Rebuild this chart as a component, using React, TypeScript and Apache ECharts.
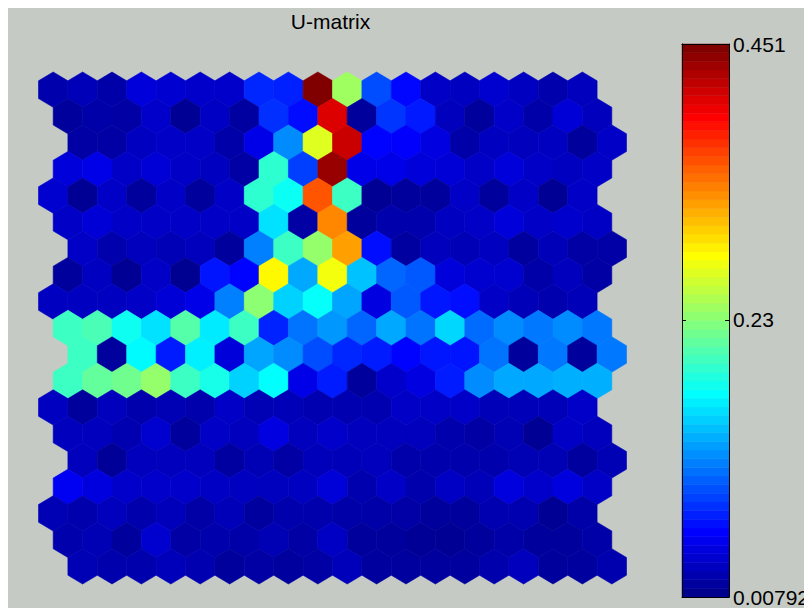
import React, { useEffect, useRef } from "react";
import * as echarts from "echarts";

// ---- data: U-matrix values, one array per hexagon row (top to bottom) ----
const row00 = [0.021, 0.026, 0.019, 0.041, 0.037, 0.034, 0.034, 0.074, 0.071, 0.451, 0.240, 0.091, 0.060, 0.032, 0.030, 0.036, 0.030, 0.021, 0.028];
const row01 = [0.0135, 0.019, 0.017, 0.034, 0.010, 0.031, 0.016, 0.078, 0.062, 0.410, 0.0135, 0.080, 0.068, 0.028, 0.0135, 0.033, 0.019, 0.039, 0.028];
const row02 = [0.017, 0.017, 0.030, 0.032, 0.032, 0.019, 0.047, 0.119, 0.268, 0.418, 0.058, 0.056, 0.044, 0.019, 0.030, 0.028, 0.030, 0.0135, 0.032];
const row03 = [0.041, 0.047, 0.032, 0.039, 0.032, 0.030, 0.017, 0.190, 0.085, 0.440, 0.047, 0.047, 0.041, 0.039, 0.032, 0.041, 0.032, 0.030, 0.032];
const row04 = [0.036, 0.010, 0.032, 0.0135, 0.032, 0.0135, 0.032, 0.190, 0.174, 0.358, 0.196, 0.010, 0.0135, 0.0135, 0.032, 0.0135, 0.032, 0.010, 0.032];
const row05 = [0.032, 0.039, 0.032, 0.032, 0.032, 0.032, 0.032, 0.157, 0.017, 0.335, 0.0135, 0.021, 0.021, 0.030, 0.032, 0.041, 0.032, 0.035, 0.031];
const row06 = [0.032, 0.021, 0.028, 0.025, 0.028, 0.0135, 0.113, 0.196, 0.235, 0.324, 0.063, 0.016, 0.028, 0.025, 0.030, 0.015, 0.026, 0.017, 0.018];
const row07 = [0.0135, 0.030, 0.010, 0.032, 0.009, 0.066, 0.058, 0.285, 0.132, 0.277, 0.143, 0.102, 0.096, 0.041, 0.036, 0.036, 0.019, 0.028, 0.017];
const row08 = [0.030, 0.030, 0.030, 0.032, 0.039, 0.047, 0.113, 0.232, 0.150, 0.172, 0.130, 0.044, 0.096, 0.067, 0.063, 0.032, 0.026, 0.022, 0.026];
const row09 = [0.196, 0.202, 0.176, 0.157, 0.207, 0.161, 0.196, 0.072, 0.108, 0.124, 0.102, 0.132, 0.108, 0.152, 0.104, 0.119, 0.110, 0.119, 0.110];
const row10 = [0.196, 0.0135, 0.168, 0.069, 0.163, 0.041, 0.130, 0.119, 0.091, 0.074, 0.069, 0.058, 0.067, 0.066, 0.108, 0.0135, 0.110, 0.0135, 0.110];
const row11 = [0.196, 0.213, 0.219, 0.235, 0.196, 0.180, 0.150, 0.170, 0.047, 0.069, 0.0135, 0.034, 0.044, 0.069, 0.119, 0.132, 0.132, 0.135, 0.135];
const row12 = [0.030, 0.0135, 0.028, 0.021, 0.0245, 0.021, 0.032, 0.0245, 0.026, 0.023, 0.023, 0.023, 0.032, 0.032, 0.033, 0.026, 0.026, 0.026, 0.033];
const row13 = [0.028, 0.028, 0.023, 0.036, 0.0135, 0.032, 0.028, 0.044, 0.028, 0.034, 0.028, 0.028, 0.028, 0.021, 0.017, 0.0245, 0.010, 0.032, 0.028];
const row14 = [0.028, 0.012, 0.028, 0.028, 0.028, 0.0155, 0.0245, 0.017, 0.027, 0.026, 0.028, 0.020, 0.021, 0.021, 0.021, 0.0245, 0.0245, 0.015, 0.0245];
const row15 = [0.052, 0.043, 0.034, 0.034, 0.034, 0.031, 0.030, 0.029, 0.030, 0.040, 0.022, 0.032, 0.021, 0.031, 0.026, 0.043, 0.034, 0.043, 0.032];
const row16 = [0.0245, 0.021, 0.028, 0.021, 0.027, 0.018, 0.026, 0.015, 0.021, 0.021, 0.019, 0.019, 0.018, 0.0135, 0.0135, 0.023, 0.023, 0.010, 0.019];
const row17 = [0.021, 0.0245, 0.0135, 0.036, 0.017, 0.021, 0.019, 0.0245, 0.017, 0.031, 0.0135, 0.0135, 0.011, 0.010, 0.0135, 0.019, 0.0135, 0.0135, 0.019];
const row18 = [0.0245, 0.021, 0.021, 0.027, 0.023, 0.0135, 0.017, 0.0145, 0.017, 0.027, 0.0145, 0.0145, 0.015, 0.015, 0.021, 0.028, 0.0135, 0.015, 0.022];

const uMatrixRows = [row00, row01, row02, row03, row04, row05, row06, row07, row08, row09,
  row10, row11, row12, row13, row14, row15, row16, row17, row18];

const colorMin = 0.00792;
const colorMax = 0.451;
const colorbarTicks = [0.00792, 0.23, 0.451];
const colorbarLabels = ["0.00792", "0.23", "0.451"];
const titleText = "U-matrix";

// hexaU lattice: horizontal shift of each row (in hexagon widths), period 4
const rowShift = [0, 0.5, 1, 0.5];

// MATLAB jet(64) colormap
function jetColormap(n: number): string[] {
  const m = Math.ceil(n / 4);
  const u: number[] = [];
  for (let k = 1; k <= m; k++) u.push(k / m);
  for (let k = 0; k < m - 1; k++) u.push(1);
  for (let k = m; k >= 1; k--) u.push(k / m);
  const J = Array.from({ length: n }, () => [0, 0, 0]);
  const gStart = Math.ceil(m / 2) - (n % 4 === 1 ? 1 : 0);
  for (let k = 0; k < u.length; k++) {
    const g = gStart + k + 1;
    const r = g + m;
    const b = g - m;
    if (g >= 1 && g <= n) J[g - 1][1] = u[k];
    if (r >= 1 && r <= n) J[r - 1][0] = u[k];
    if (b >= 1 && b <= n) J[b - 1][2] = u[k];
  }
  return J.map(([r, g, b]) => `rgb(${Math.round(r * 255)},${Math.round(g * 255)},${Math.round(b * 255)})`);
}

const JET = jetColormap(64);
const FONT = '"Liberation Sans", Arial, Helvetica, sans-serif';
const BG = "#c6cac5";

export default function App() {
  const ref = useRef<HTMLDivElement>(null);

  useEffect(() => {
    if (!ref.current) return;
    const chart = echarts.init(ref.current, undefined, { renderer: "svg" });

    const hexData: number[][] = [];
    uMatrixRows.forEach((row, r) => {
      row.forEach((v, c) => {
        hexData.push([c + rowShift[r % 4], r, v]);
      });
    });
    const nRows = uMatrixRows.length;
    const nCols = uMatrixRows[0].length;

    const step = (colorMax - colorMin) / JET.length;
    const barData = JET.map((_, i) => [i, colorMin + i * step, colorMin + (i + 1) * step]);

    const labelFor = (v: number) => {
      for (let i = 0; i < colorbarTicks.length; i++) {
        if (Math.abs(colorbarTicks[i] - v) < 1e-9) return colorbarLabels[i];
      }
      return "";
    };

    const blackLine = { show: true, onZero: false, lineStyle: { color: "#000", width: 1 } };

    chart.setOption({
      animation: false,
      backgroundColor: BG,
      graphic: [
        {
          type: "text",
          x: 322.5,
          y: 13.5,
          style: {
            text: titleText,
            fill: "#000",
            fontSize: 21,
            fontFamily: FONT,
            align: "center",
            verticalAlign: "middle",
          },
        },
      ],
      grid: [
        { left: 30.5, top: 64, width: 588, height: 512 },
        { left: 674, top: 36, width: 55, height: 553 },
      ],
      xAxis: [
        { gridIndex: 0, type: "value", min: -0.5, max: nCols + 0.5, show: false },
        {
          gridIndex: 1, type: "value", min: 0, max: 1, position: "bottom", z: 10,
          axisLine: blackLine, axisTick: { show: false }, axisLabel: { show: false }, splitLine: { show: false },
        },
        {
          gridIndex: 1, type: "value", min: 0, max: 1, position: "top", z: 10,
          axisLine: blackLine, axisTick: { show: false }, axisLabel: { show: false }, splitLine: { show: false },
        },
      ],
      yAxis: [
        { gridIndex: 0, type: "value", min: -2 / 3, max: nRows - 1 + 2 / 3, inverse: true, show: false },
        {
          gridIndex: 1, type: "value", min: colorMin, max: colorMax, position: "left", z: 10,
          axisLine: blackLine,
          axisTick: { show: true, inside: true, length: 4, customValues: colorbarTicks, lineStyle: { color: "#000" } },
          axisLabel: { show: false },
          splitLine: { show: false },
        },
        {
          gridIndex: 1, type: "value", min: colorMin, max: colorMax, position: "right", z: 10,
          axisLine: blackLine,
          axisTick: { show: true, inside: true, length: 4, customValues: colorbarTicks, lineStyle: { color: "#000" } },
          axisLabel: {
            show: true,
            customValues: colorbarTicks,
            formatter: (v: number) => labelFor(v),
            margin: 4,
            color: "#000",
            fontSize: 21,
            fontFamily: FONT,
            verticalAlign: "middle",
            padding: [6, 0, 0, 0],
          },
          splitLine: { show: false },
        },
      ],
      visualMap: {
        type: "continuous",
        show: false,
        seriesIndex: 0,
        dimension: 2,
        min: colorMin,
        max: colorMax,
        inRange: { color: JET },
      },
      series: [
        {
          type: "custom",
          xAxisIndex: 0,
          yAxisIndex: 0,
          data: hexData,
          renderItem: (params: any, api: any) => {
            const c = api.coord([api.value(0), api.value(1)]);
            const s = api.size([1, 1]);
            const hw = s[0] / 2;
            const sy = s[1];
            const cx = c[0];
            const cy = c[1];
            const color = api.visual("color");
            return {
              type: "polygon",
              shape: {
                points: [
                  [cx, cy - (sy * 2) / 3],
                  [cx + hw, cy - sy / 3],
                  [cx + hw, cy + sy / 3],
                  [cx, cy + (sy * 2) / 3],
                  [cx - hw, cy + sy / 3],
                  [cx - hw, cy - sy / 3],
                ],
              },
              style: { fill: color, stroke: color, lineWidth: 0.6 },
            };
          },
        },
        {
          type: "custom",
          xAxisIndex: 1,
          yAxisIndex: 1,
          data: barData,
          renderItem: (params: any, api: any) => {
            const i = api.value(0);
            const p1 = api.coord([0, api.value(2)]);
            const p2 = api.coord([1, api.value(1)]);
            const color = JET[i];
            return {
              type: "rect",
              shape: { x: p1[0], y: p1[1], width: p2[0] - p1[0], height: p2[1] - p1[1] },
              style: { fill: color, stroke: color, lineWidth: 0.5 },
            };
          },
        },
      ],
    });

    return () => chart.dispose();
  }, []);

  return <div ref={ref} style={{ width: 804, height: 600 }} />;
}
